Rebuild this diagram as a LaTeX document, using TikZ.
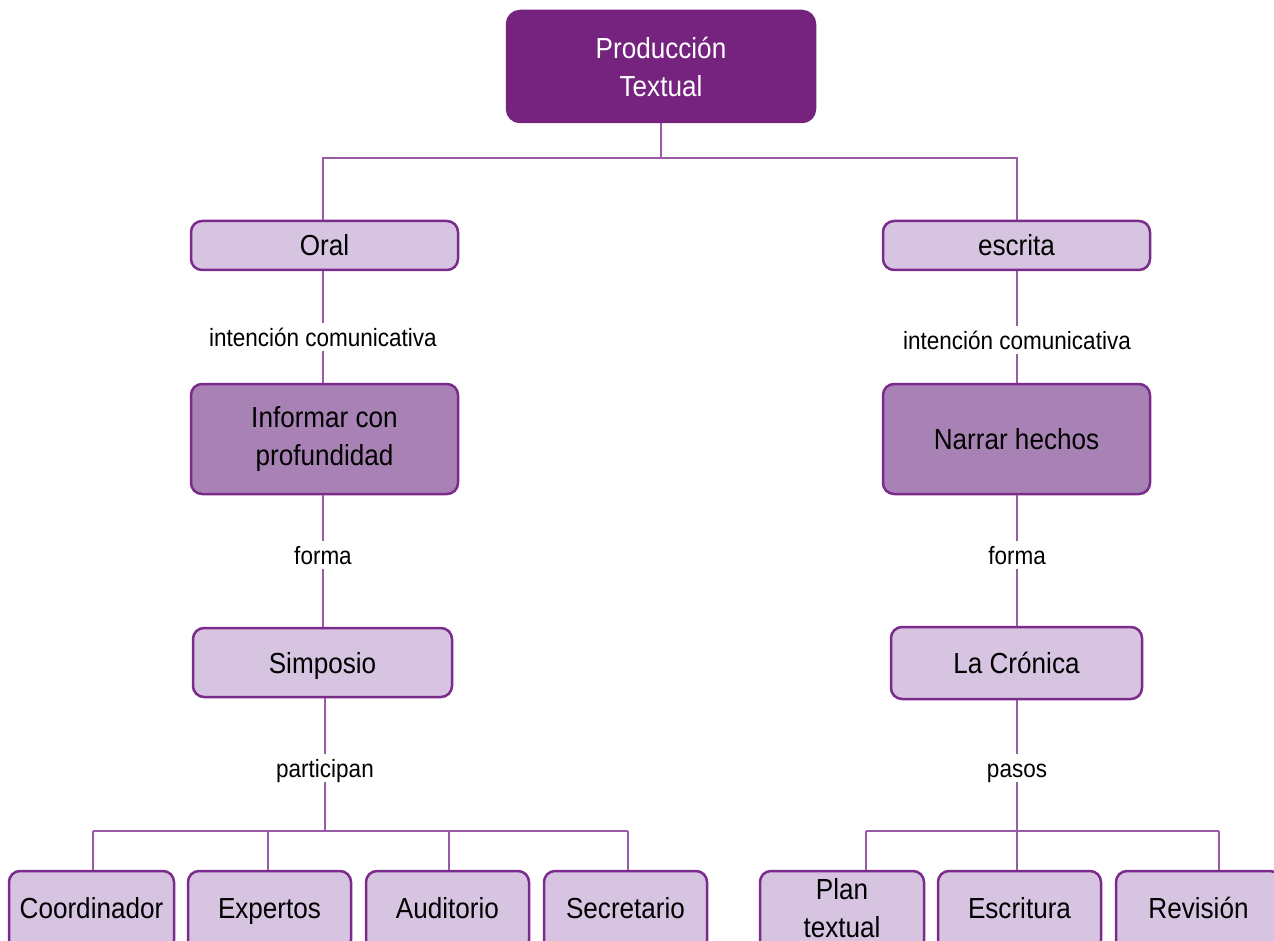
\documentclass[tikz,border=0pt]{standalone}
\usepackage{fontspec}
\setmainfont[FakeStretch=0.9]{Liberation Sans}
\definecolor{dark}{HTML}{76237F}
\definecolor{light}{HTML}{D6C4E0}
\definecolor{mid}{HTML}{A982B5}
\definecolor{bord}{HTML}{7B2B8C}
\definecolor{conn}{HTML}{9A5BA6}
\begin{document}
\begin{tikzpicture}[x=1pt,y=-1pt,
  box/.style={draw=bord, line width=2.5pt, rounded corners=11pt, fill=light,
    font=\fontsize{29}{38}\selectfont, align=center, inner sep=0pt, text=black},
  one/.style={text height=22pt, text depth=1pt},
  low/.style={text height=22pt, text depth=8pt},
  topbox/.style={box, fill=dark, draw=dark, text=white, rounded corners=13pt},
  midbox/.style={box, fill=mid},
  lbl/.style={font=\fontsize{25}{30}\selectfont, inner sep=2pt, text=black, text height=21pt, text depth=2pt},
  cn/.style={draw=conn, line width=2.5pt}]
\useasboundingbox (0,0) rectangle (1274,941);
% nodes
\node[topbox, minimum width=308pt, minimum height=111pt] (top) at (661,66.5) {Producción\\Textual};
\node[box, one, minimum width=267pt, minimum height=49pt] (oral) at (324.5,245.5) {Oral};
\node[box, one, minimum width=267pt, minimum height=49pt] (escrita) at (1016.5,245.5) {escrita};
\node[midbox, minimum width=267pt, minimum height=110pt] (inf) at (324.5,439) {Informar con\\profundidad};
\node[midbox, one, minimum width=267pt, minimum height=110pt] (nar) at (1016.5,439) {Narrar hechos};
\node[box, one, minimum width=259pt, minimum height=69pt] (simp) at (322.5,662.5) {Simposio};
\node[box, one, minimum width=251pt, minimum height=72pt] (cron) at (1016.5,663) {La Crónica};
\node[box, low, minimum width=165pt, minimum height=80pt] (coord) at (91.5,911) {Coordinador};
\node[box, low, minimum width=163pt, minimum height=80pt] (exp) at (269.5,911) {Expertos};
\node[box, low, minimum width=163pt, minimum height=80pt] (aud) at (447.5,911) {Auditorio};
\node[box, low, minimum width=163pt, minimum height=80pt] (sec) at (625.5,911) {Secretario};
\node[box, text height=60pt, text depth=8pt, minimum width=164pt, minimum height=80pt] (plan) at (842,911) {Plan\\textual};
\node[box, low, minimum width=163pt, minimum height=80pt] (esc) at (1019.5,911) {Escritura};
\node[box, low, minimum width=165pt, minimum height=80pt] (rev) at (1198.5,911) {Revisión};
% labels
\node[lbl] (l1) at (323,337) {intención comunicativa};
\node[lbl] (l2) at (1017,340) {intención comunicativa};
\node[lbl] (l3) at (323,555) {forma};
\node[lbl] (l4) at (1017,555) {forma};
\node[lbl] (l5) at (325,768) {participan};
\node[lbl] (l6) at (1017,768) {pasos};
% junctions
\coordinate (j1) at (661,158);
\coordinate (jl) at (325,831);
\coordinate (jr) at (1017,831);
\coordinate (d1) at (93,831);
\coordinate (d2) at (268,831);
\coordinate (d3) at (449,831);
\coordinate (d4) at (628,831);
\coordinate (e1) at (866,831);
\coordinate (e2) at (1017,831);
\coordinate (e3) at (1219,831);
% connectors
\draw[cn] (top.south) -- (j1);
\draw[cn] (j1) -| (oral.north -| 323,0);
\draw[cn] (j1) -| (escrita.north -| 1017,0);
\draw[cn] (oral.south -| l1.north) -- (l1.north);
\draw[cn] (l1.south) -- (inf.north -| l1.south);
\draw[cn] (escrita.south -| l2.north) -- (l2.north);
\draw[cn] (l2.south) -- (nar.north -| l2.south);
\draw[cn] (inf.south -| l3.north) -- (l3.north);
\draw[cn] (l3.south) -- (simp.north -| l3.south);
\draw[cn] (nar.south -| l4.north) -- (l4.north);
\draw[cn] (l4.south) -- (cron.north -| l4.south);
\draw[cn] (simp.south -| l5.north) -- (l5.north);
\draw[cn] (l5.south) -- (jl);
\draw[cn] (cron.south -| l6.north) -- (l6.north);
\draw[cn] (l6.south) -- (jr);
\draw[cn] (d1) -- (d4);
\draw[cn] (d1) -- (coord.north -| d1);
\draw[cn] (d2) -- (exp.north -| d2);
\draw[cn] (d3) -- (aud.north -| d3);
\draw[cn] (d4) -- (sec.north -| d4);
\draw[cn] (e1) -- (e3);
\draw[cn] (e1) -- (plan.north -| e1);
\draw[cn] (e2) -- (esc.north -| e2);
\draw[cn] (e3) -- (rev.north -| e3);
\end{tikzpicture}
\end{document}
